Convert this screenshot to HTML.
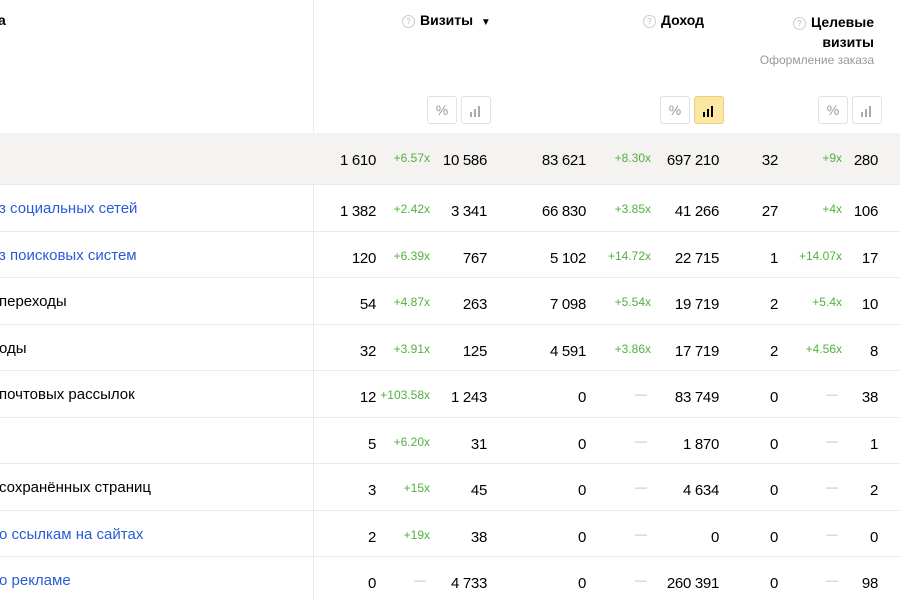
<!DOCTYPE html>
<html><head><meta charset="utf-8">
<style>
body{margin:0;width:900px;height:600px;overflow:hidden;background:#fff;font-family:"Liberation Sans","DejaVu Sans",sans-serif;color:#000;position:relative}
.a{position:absolute;white-space:nowrap}
.n{font-size:15px;text-align:right;width:120px;letter-spacing:-0.3px}
.d{font-size:12px;color:#52b03e;text-align:right;width:80px}
.dash{font-size:12px;color:#bbb;text-align:center;width:20px}
.lab{font-size:15px}
.link{color:#2a5bd7}
.hd{font-size:14px;font-weight:bold}
.q{display:inline-block;width:11px;height:11px;border:1px solid #ccc;border-radius:50%;font-size:8px;color:#bbb;text-align:center;line-height:11px;font-weight:normal;vertical-align:1px;margin-right:5px}
.btn{position:absolute;width:28px;height:26px;border:1px solid #e2e2e2;border-radius:3px;background:#fff;font-size:14px;color:#999;text-align:center;line-height:26px}
.btn.on{background:#fbe6a2;border-color:#e8cf80;color:#000}
.bars{display:inline-block;vertical-align:middle}
.row{position:absolute;left:0;width:900px;border-top:1px solid #ebebeb}
</style></head><body>
<div class="a" style="left:313px;top:0;width:1px;height:600px;background:#ebebeb"></div>
<div class="a hd" style="left:-2px;top:12px">а</div>
<div class="a hd" style="left:402px;top:12px"><span class="q">?</span>Визиты &nbsp;<span style="font-size:10px">▼</span></div>
<div class="a hd" style="left:643px;top:12px"><span class="q">?</span>Доход</div>
<div class="a hd" style="left:788px;top:12px;text-align:right;width:86px;line-height:20px"><span class="q">?</span>Целевые<br>визиты</div>
<div class="a" style="left:700px;top:53px;width:174px;text-align:right;font-size:12px;color:#999">Оформление заказа</div>
<div class="btn" style="left:427px;top:96px">%</div>
<div class="btn" style="left:461px;top:96px"><svg class="bars" width="14" height="12"><rect x="1" y="7" width="2" height="5" fill="#aaa"/><rect x="5" y="4" width="2" height="8" fill="#aaa"/><rect x="9" y="1" width="2" height="11" fill="#aaa"/></svg></div>
<div class="btn" style="left:660px;top:96px">%</div>
<div class="btn on" style="left:694px;top:96px"><svg class="bars" width="14" height="12"><rect x="1" y="7" width="2" height="5" fill="#000"/><rect x="5" y="4" width="2" height="8" fill="#000"/><rect x="9" y="1" width="2" height="11" fill="#000"/></svg></div>
<div class="btn" style="left:818px;top:96px">%</div>
<div class="btn" style="left:852px;top:96px"><svg class="bars" width="14" height="12"><rect x="1" y="7" width="2" height="5" fill="#aaa"/><rect x="5" y="4" width="2" height="8" fill="#aaa"/><rect x="9" y="1" width="2" height="11" fill="#aaa"/></svg></div>
<div id="t"></div>
<script>
const labels=["","з социальных сетей","з поисковых систем","переходы","оды","почтовых рассылок","","сохранённых страниц","о ссылкам на сайтах","о рекламе"];
const isLink=[0,1,1,0,0,0,0,0,1,1];
const visits1=["1 610","1 382","120","54","32","12","5","3","2","0"];
const visitsDiff=["+6.57x","+2.42x","+6.39x","+4.87x","+3.91x","+103.58x","+6.20x","+15x","+19x","—"];
const visits2=["10 586","3 341","767","263","125","1 243","31","45","38","4 733"];
const rev1=["83 621","66 830","5 102","7 098","4 591","0","0","0","0","0"];
const revDiff=["+8.30x","+3.85x","+14.72x","+5.54x","+3.86x","—","—","—","—","—"];
const rev2=["697 210","41 266","22 715","19 719","17 719","83 749","1 870","4 634","0","260 391"];
const goal1=["32","27","1","2","2","0","0","0","0","0"];
const goalDiff=["+9x","+4x","+14.07x","+5.4x","+4.56x","—","—","—","—","—"];
const goal2=["280","106","17","10","8","38","1","2","0","98"];
const t=document.getElementById('t');
const tops=[133,184,231,277,324,370,417,463,510,556];
function cell(txt,cls,right,top,name){
  const e=document.createElement('div');
  
  
  e.className='a '+cls;
  if(txt==='—'){e.className='a dash';e.style.left=(right-20)+'px';e.style.top=(top+17)+'px';}
  else{const w=cls==='n'?120:80;e.style.left=(right-w)+'px';e.style.top=(top+(cls==='n'?19:18))+'px';}
  e.textContent=txt;t.appendChild(e);
}
labels.forEach((l,i)=>{
  const top=tops[i];
  const r=document.createElement('div');
  
  
  r.className='row';r.style.top=top+'px';r.style.height=(i===0?51:46)+'px';
  if(i===0){r.style.background='#f4f3f1';r.style.borderTop='none';}
  t.appendChild(r);
  if(l){const e=document.createElement('div');
    
    
    e.className='a lab'+(isLink[i]?' link':'');e.style.left='-1px';e.style.top=(top+16)+'px';e.textContent=l;t.appendChild(e);}
  cell(visits1[i],'n',376,top,'visits-value');
  cell(visitsDiff[i],'d',430,top,'visits-change');
  cell(visits2[i],'n',487,top,'visits-compare');
  cell(rev1[i],'n',586,top,'revenue-value');
  cell(revDiff[i],'d',651,top,'revenue-change');
  cell(rev2[i],'n',719,top,'revenue-compare');
  cell(goal1[i],'n',778,top,'goal-value');
  cell(goalDiff[i],'d',842,top,'goal-change');
  cell(goal2[i],'n',878,top,'goal-compare');
});
</script>
</body></html>
